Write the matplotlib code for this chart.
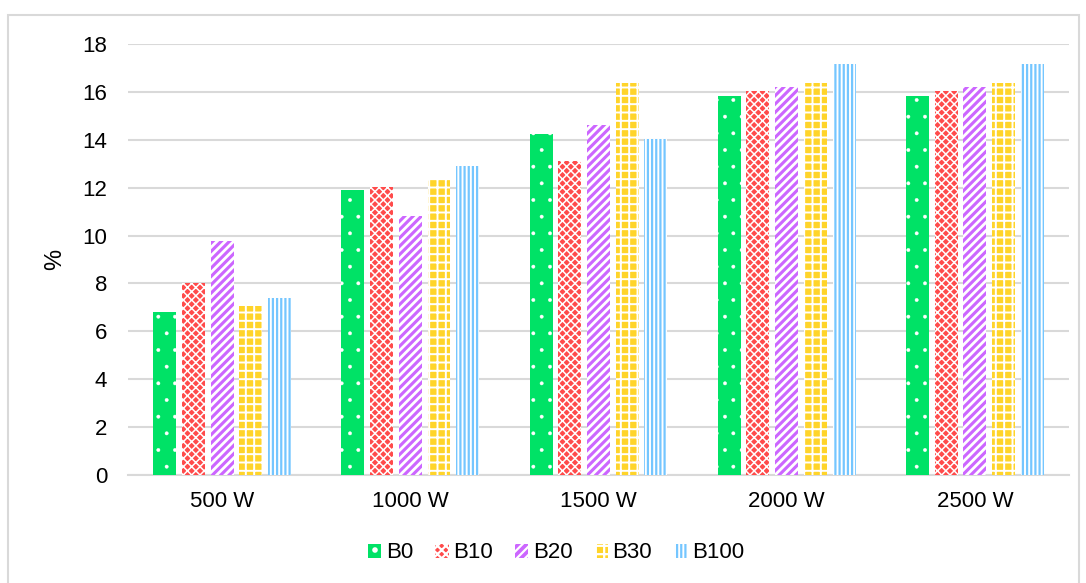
import numpy as np
import matplotlib
matplotlib.use("Agg")
import matplotlib.pyplot as plt
from matplotlib.patches import Rectangle

plt.rcParams["font.family"] = ["Liberation Sans", "DejaVu Sans"]

categories = ["500 W", "1000 W", "1500 W", "2000 W", "2500 W"]
series = ["B0", "B10", "B20", "B30", "B100"]
b0 = [6.81, 11.90, 14.24, 15.83, 15.83]
b10 = [8.02, 12.04, 13.13, 16.05, 16.05]
b20 = [9.77, 10.82, 14.61, 16.21, 16.21]
b30 = [7.05, 12.31, 16.37, 16.37, 16.37]
b100 = [7.40, 12.91, 14.05, 17.16, 17.16]
values = [b0, b10, b20, b30, b100]

# face, hatch colour, hatch pattern, hatch width
styles = [
    ("#00E266", "white", ".", 0.3),
    ("#FF4B4B", "white", "xxxx", 1.1),
    ("#CC66FF", "white", "////", 2.0),
    ("#FFD42A", "white", "++", 1.4),
    ("white", "#74C6FF", "||||", 1.6),
]

fig = plt.figure(figsize=(10.86, 5.83), dpi=100)
fig.patches.append(Rectangle((8 / 1086, -10 / 583), 1071 / 1086, 578 / 583,
                             transform=fig.transFigure, fill=False,
                             edgecolor="#D9D9D9", lw=1.5))
ax = fig.add_axes([0.1179, 0.1861, 0.8664, 0.7379])

x = np.arange(len(categories))
pitch = 0.1525
width = 0.122
handles = []
for i, (name, vals, (fc, hc, hatch, hlw)) in enumerate(zip(series, values, styles)):
    plt.rcParams["hatch.linewidth"] = hlw
    bars = ax.bar(x + (i - 2) * pitch, vals, width, facecolor=fc,
                  edgecolor=hc, hatch=hatch, lw=0, label=name, zorder=3)
    handles.append(bars)

ax.set_xlim(-0.5, len(categories) - 0.5)
ax.set_ylim(0, 18)
ax.set_yticks(np.arange(0, 19, 2))
ax.set_xticks(x)
ax.set_xticklabels(categories)
ax.yaxis.grid(True, color="#D9D9D9", lw=1.5, zorder=0)
ax.set_axisbelow(True)
for s in ["top", "right", "left"]:
    ax.spines[s].set_visible(False)
ax.spines["bottom"].set_color("#D9D9D9")
ax.spines["bottom"].set_linewidth(1.5)
ax.tick_params(axis="both", length=0, labelsize=16, colors="black")
ax.tick_params(axis="y", pad=15)
ax.tick_params(axis="x", pad=12)
ax.set_ylabel("%", fontsize=17, labelpad=12)

leg = ax.legend(handles=handles, loc="center", bbox_to_anchor=(556 / 1086, 1 - 553 / 583),
                bbox_transform=fig.transFigure, ncol=5, frameon=False, fontsize=16,
                handlelength=0.6, handleheight=0.6, handletextpad=0.2, columnspacing=1.0)

fig.savefig("out.png", dpi=100)
